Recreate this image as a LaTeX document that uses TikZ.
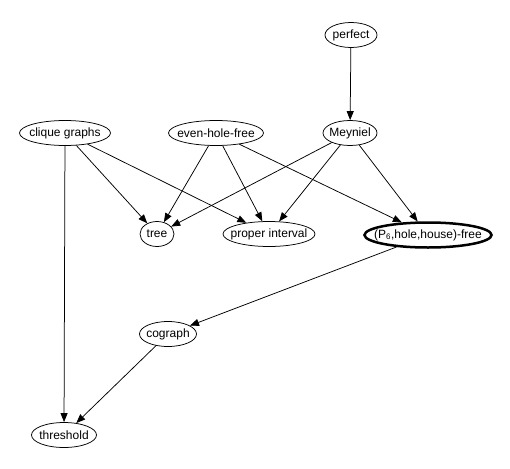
\documentclass[tikz,border=0pt]{standalone}
\usepackage{fontspec}
\setmainfont{Liberation Sans}
\usetikzlibrary{shapes.geometric, arrows.meta}

\newcommand{\nlab}[1]{\makebox[0pt]{#1}}

\begin{document}
\begin{tikzpicture}[x=1pt, y=-1pt,
    gnode/.style={ellipse, draw, line width=0.75pt, minimum width=#1, minimum height=25, inner sep=0pt, font=\fontsize{12}{14}\selectfont},
    link/.style={-{Triangle[length=9pt,width=7pt]}, line width=0.75pt}]
        \useasboundingbox (0,0) rectangle (510,468);

        % Classes
        \node[gnode=52] (perfect) at (351,35) {\nlab{perfect}};
        \node[gnode=91] (clique) at (65,133) {\nlab{clique graphs}};
        \node[gnode=95] (evenhole) at (216,133) {\nlab{even-hole-free}};
        \node[gnode=54] (meyniel) at (350,133) {\nlab{Meyniel}};
        \node[gnode=34] (tree) at (157,234) {\nlab{tree}};
        \node[gnode=92] (propint) at (269,234) {\nlab{proper interval}};
        \node[gnode=127, line width=2.5pt] (phh) at (428,235) {\nlab{(P\textsubscript{6},hole,house)-free}};
        \node[gnode=57] (cograph) at (168,334) {\nlab{cograph}};
        \node[gnode=65] (threshold) at (64,435) {\nlab{threshold}};

        % Inclusions
        \foreach \a/\b in {perfect/meyniel, clique/tree, clique/propint, clique/threshold,
                           evenhole/tree, evenhole/propint, evenhole/phh,
                           meyniel/tree, meyniel/propint, meyniel/phh,
                           phh/cograph, cograph/threshold} {
          \draw[link] (\a) -- (\b);
        }
      \end{tikzpicture}
\end{document}
